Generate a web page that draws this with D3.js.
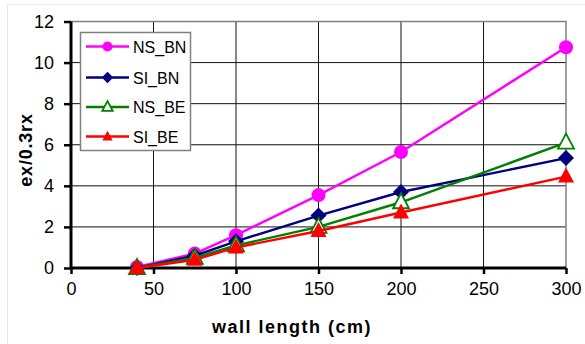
<!DOCTYPE html>
<html><head><meta charset="utf-8">
<script src="https://cdn.jsdelivr.net/npm/d3@7"></script>
<style>body{margin:0;background:#fff}svg{display:block;font-family:"Liberation Sans",Arial,sans-serif}</style>
</head><body><svg id="c" width="585" height="344"></svg>
<script>
const xValues = [40, 75, 100, 150, 200, 300];
const seriesNames = ["NS_BN", "SI_BN", "NS_BE", "SI_BE"];
const NS_BN = [0.05, 0.7, 1.6, 3.55, 5.65, 10.75];
const SI_BN = [0.0, 0.6, 1.3, 2.55, 3.7, 5.35];
const NS_BE = [0.0, 0.5, 1.1, 2.0, 3.2, 6.1];
const SI_BE = [0.0, 0.4, 1.0, 1.8, 2.7, 4.45];
const xTicks = [0, 50, 100, 150, 200, 250, 300];
const yTicks = [0, 2, 4, 6, 8, 10, 12];

const colors = ["#ff00ff", "#000080", "#008000", "#ff0000"];
const markers = ["circle", "diamond", "triOpen", "tri"];
const data = [NS_BN, SI_BN, NS_BE, SI_BE];

const svg = d3.select("#c");
const x = d3.scaleLinear().domain([0, 300]).range([71, 566]);
const y = d3.scaleLinear().domain([0, 12]).range([268, 21.5]);

// faint outer frame
svg.append("line").attr("x1",7).attr("x2",585).attr("y1",4.5).attr("y2",4.5).attr("stroke","#e8e8e8");
svg.append("line").attr("x1",7.5).attr("x2",7.5).attr("y1",4).attr("y2",344).attr("stroke","#e8e8e8");

// gridlines
svg.append("g").selectAll("line").data(xTicks.filter(d=>d>0 && d<300)).join("line")
  .attr("x1",d=>x(d)).attr("x2",d=>x(d)).attr("y1",y(12)).attr("y2",y(0))
  .attr("stroke","#111").attr("stroke-width",1);
svg.append("g").selectAll("line").data(yTicks.filter(d=>d>0 && d<12)).join("line")
  .attr("x1",x(0)).attr("x2",x(300)).attr("y1",d=>y(d)).attr("y2",d=>y(d))
  .attr("stroke","#111").attr("stroke-width",1);
// top & right border
svg.append("path").attr("d",`M${x(0)},${y(12)}H${x(300)}V${y(0)}`).attr("fill","none").attr("stroke","#808080").attr("stroke-width",1.5);

// axes
const xAxis = d3.axisBottom(x).tickValues(xTicks).tickSize(6).tickPadding(8);
const gx = svg.append("g").attr("transform",`translate(0,${y(0)})`).call(xAxis);
const yAxis = d3.axisLeft(y).tickValues(yTicks).tickSize(7).tickPadding(10);
const gy = svg.append("g").attr("transform",`translate(${x(0)},0)`).call(yAxis);
[gx, gy].forEach(g=>{
  g.attr("font-size",18).attr("font-family","Liberation Sans, Arial, sans-serif");
  g.select(".domain").attr("stroke","#000").attr("stroke-width",3);
  g.selectAll(".tick line").attr("stroke","#000").attr("stroke-width",2.5);
  g.selectAll(".tick text").attr("fill","#000");
});
gx.select(".domain").attr("d",`M${x(0)},0H${x(300)}`);
gy.select(".domain").attr("d",`M0,${y(0)}V${y(12)}`);

// axis titles
svg.append("text").attr("x",292).attr("y",333).attr("text-anchor","middle")
  .attr("font-size",18).attr("font-weight","bold").attr("letter-spacing",1.5).text("wall length (cm)");
svg.append("text").attr("transform","translate(32,150) rotate(-90)").attr("text-anchor","middle")
  .attr("font-size",18).attr("font-weight","bold").attr("letter-spacing",0.8).text("ex/0.3rx");

function drawMarker(g, type, color, cx, cy, s) {
  if (type === "circle") {
    g.append("circle").attr("cx",cx).attr("cy",cy).attr("r",7*s).attr("fill",color);
  } else if (type === "diamond") {
    const r = 8*s;
    g.append("path").attr("d",`M${cx},${cy-r}L${cx+r},${cy}L${cx},${cy+r}L${cx-r},${cy}Z`).attr("fill",color);
  } else {
    const h = 15*s, w = 16*s;
    const p = `M${cx},${cy-h*0.6}L${cx+w/2},${cy+h*0.4}L${cx-w/2},${cy+h*0.4}Z`;
    if (type === "tri") g.append("path").attr("d",p).attr("fill",color);
    else g.append("path").attr("d",p).attr("fill","#fff").attr("stroke",color).attr("stroke-width",1.8);
  }
}

const line = d3.line().x((d,i)=>x(xValues[i])).y(d=>y(d));
data.forEach((vals, k) => {
  const g = svg.append("g");
  g.append("path").datum(vals).attr("d",line).attr("fill","none").attr("stroke",colors[k]).attr("stroke-width",2.4);
  vals.forEach((v,i)=>drawMarker(g, markers[k], colors[k], x(xValues[i]), y(v), 1));
});

// legend
const lg = svg.append("g");
lg.append("rect").attr("x",80.5).attr("y",32.5).attr("width",110).attr("height",118)
  .attr("fill","#fff").attr("stroke","#808080").attr("stroke-width",1.5);
const rowY = [46.5, 77.5, 107, 136.5];
seriesNames.forEach((n,k)=>{
  lg.append("line").attr("x1",86).attr("x2",129).attr("y1",rowY[k]).attr("y2",rowY[k]).attr("stroke",colors[k]).attr("stroke-width",2.4);
  drawMarker(lg, markers[k], colors[k], 107.5, rowY[k], k>=2 ? 0.65 : 0.72);
  lg.append("text").attr("x",133).attr("y",rowY[k]+6).attr("font-size",16).text(n);
});
</script></body></html>
